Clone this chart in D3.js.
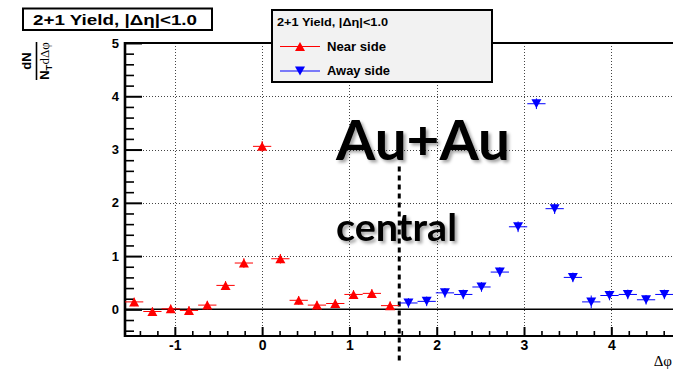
<!DOCTYPE html>
<html>
<head>
<meta charset="utf-8">
<script src="https://cdn.jsdelivr.net/npm/d3@7"></script>
<style>
  body { margin: 0; background: #fff; }
  svg { display: block; font-family: "Liberation Sans", Arial, sans-serif; }
</style>
</head>
<body>
<svg id="chart" width="673" height="371"></svg>
<script>
// Δφ bin centres (rad) and per-trigger yields
const nearPhi   = [-1.466, -1.257, -1.047, -0.838, -0.628, -0.419, -0.209, 0.000, 0.209, 0.419, 0.628, 0.838, 1.047, 1.257, 1.466];
const nearYield = [0.14, -0.04, 0.01, -0.02, 0.08, 0.45, 0.87, 3.06, 0.95, 0.17, 0.08, 0.11, 0.28, 0.30, 0.07];
const nearErr   = [0.08, 0.08, 0.08, 0.08, 0.08, 0.08, 0.09, 0.10, 0.09, 0.08, 0.08, 0.08, 0.08, 0.08, 0.08];

const awayPhi   = [1.676, 1.885, 2.094, 2.304, 2.513, 2.723, 2.932, 3.142, 3.351, 3.560, 3.770, 3.979, 4.189, 4.398, 4.608];
const awayYield = [0.12, 0.15, 0.31, 0.28, 0.42, 0.70, 1.55, 3.86, 1.89, 0.60, 0.14, 0.26, 0.28, 0.18, 0.28];
const awayErr   = [0.09, 0.09, 0.09, 0.09, 0.09, 0.09, 0.10, 0.10, 0.10, 0.09, 0.12, 0.09, 0.09, 0.09, 0.09];

const xMajorTicks = [-1, 0, 1, 2, 3, 4];
const yMajorTicks = [0, 1, 2, 3, 4, 5];
const yGridTicks  = [1, 2, 3, 4];

const titleText  = "2+1 Yield, |\u0394\u03b7|<1.0";
const legendRows = ["Near side", "Away side"];

const SANS = "'Liberation Sans', Arial, sans-serif";
const SERIF = "'Liberation Serif', 'Times New Roman', serif";
const SLIDE = "Lato, 'Open Sans', sans-serif";

const svg = d3.select("#chart");

const frame = { left: 125, top: 43, right: 673.5, bottom: 336 };
const x = d3.scaleLinear().domain([-Math.PI / 2, 3 * Math.PI / 2]).range([frame.left, frame.right]);
const y = d3.scaleLinear().domain([-0.5, 5]).range([frame.bottom, frame.top]);
const halfBin = Math.PI / 30;

// minor tick positions every 0.2
const xMinor = d3.range(-7, 24).map(i => i * 0.2).filter(v => v > -1.57 && v < 4.71 && Math.abs(v - Math.round(v)) > 1e-6);
const yMinor = d3.range(-2, 25).map(i => i * 0.2).filter(v => v >= -0.45 && v < 5 && Math.abs(v - Math.round(v)) > 1e-6);

// shadow used by the big annotation text
const defs = svg.append("defs");
const f = defs.append("filter").attr("id", "soft").attr("x", "-10%").attr("y", "-10%").attr("width", "130%").attr("height", "140%");
f.append("feDropShadow").attr("dx", 2.5).attr("dy", 2.5).attr("stdDeviation", 1.6)
  .attr("flood-color", "#000").attr("flood-opacity", 0.35);

// grid
const grid = svg.append("g").attr("stroke", "#444").attr("stroke-width", 1).attr("stroke-dasharray", "1 2");
grid.selectAll("line.v").data(xMajorTicks).join("line").attr("class", "v")
  .attr("x1", d => Math.round(x(d)) + 0.5).attr("x2", d => Math.round(x(d)) + 0.5)
  .attr("y1", frame.top).attr("y2", frame.bottom);
grid.selectAll("line.h").data(yGridTicks).join("line").attr("class", "h")
  .attr("x1", frame.left).attr("x2", frame.right)
  .attr("y1", d => Math.round(y(d)) + 0.5).attr("y2", d => Math.round(y(d)) + 0.5);

// zero line
svg.append("line").attr("x1", frame.left).attr("x2", frame.right)
  .attr("y1", y(0)).attr("y2", y(0)).attr("stroke", "#000").attr("stroke-width", 1.5);

// frame
svg.append("path")
  .attr("d", `M${frame.left},${frame.top}H${frame.right}M${frame.left},${frame.bottom}H${frame.right}`)
  .attr("stroke", "#000").attr("stroke-width", 2).attr("fill", "none");
svg.append("line").attr("x1", frame.left).attr("x2", frame.left)
  .attr("y1", frame.top - 1).attr("y2", frame.bottom + 1).attr("stroke", "#000").attr("stroke-width", 2.6);

// y axis ticks (inward) and labels
function styleTicks(g, w) {
  g.select(".domain").remove();
  g.selectAll(".tick line").attr("stroke", "#000").attr("stroke-width", w);
}
function styleLabels(g, size) {
  g.select(".domain").remove();
  g.selectAll("text").attr("fill", "#000")
    .style("font-family", SANS).style("font-size", size + "px").style("font-weight", "bold");
}
svg.append("g").attr("transform", `translate(${frame.left},0)`)
  .call(d3.axisRight(y).tickValues(yMajorTicks).tickSize(17).tickFormat(""))
  .call(g => styleTicks(g, 2));
svg.append("g").attr("transform", `translate(${frame.left},0)`)
  .call(d3.axisRight(y).tickValues(yMinor).tickSize(9).tickFormat(""))
  .call(g => styleTicks(g, 1.6));
svg.append("g").attr("transform", `translate(${frame.left},0)`)
  .call(d3.axisLeft(y).tickValues(yMajorTicks).tickSize(0).tickPadding(6).tickFormat(d => String(d)))
  .call(g => styleLabels(g, 13));

// x axis ticks (inward) and labels
svg.append("g").attr("transform", `translate(0,${frame.bottom})`)
  .call(d3.axisTop(x).tickValues(xMajorTicks).tickSize(9).tickFormat(""))
  .call(g => styleTicks(g, 2));
svg.append("g").attr("transform", `translate(0,${frame.bottom})`)
  .call(d3.axisTop(x).tickValues(xMinor).tickSize(5).tickFormat(""))
  .call(g => styleTicks(g, 1.6));
svg.append("g").attr("transform", `translate(0,${frame.bottom})`)
  .call(d3.axisBottom(x).tickValues(xMajorTicks).tickSize(0).tickPadding(4).tickFormat(d => String(d)))
  .call(g => styleLabels(g, 14));

// axis titles
svg.append("text").attr("x", 672).attr("y", 366).attr("text-anchor", "end")
  .style("font-family", SERIF).style("font-size", "15px")
  .text("\u0394\u03c6");

const yl = svg.append("g").attr("transform", "rotate(-90)");
yl.append("text").attr("x", -61).attr("y", 31).attr("text-anchor", "middle")
  .style("font-size", "13px").style("font-weight", "bold").text("dN");
yl.append("line").attr("x1", -42).attr("x2", -80).attr("y1", 36.5).attr("y2", 36.5)
  .attr("stroke", "#000").attr("stroke-width", 1.6);
const den = yl.append("text").attr("x", -61).attr("y", 49).attr("text-anchor", "middle")
  .style("font-size", "13px").style("font-weight", "bold");
den.append("tspan").text("N");
den.append("tspan").style("font-size", "9.5px").attr("dy", 3).text("T");
den.append("tspan").attr("dy", -3).style("font-family", SERIF).style("font-weight", "normal").text("d\u0394\u03c6");

// dashed marker at Δφ = π/2
svg.append("line").attr("x1", x(Math.PI / 2)).attr("x2", x(Math.PI / 2))
  .attr("y1", y(2.68)).attr("y2", y(-1.0))
  .attr("stroke", "#000").attr("stroke-width", 3).attr("stroke-dasharray", "5 4");

// data
const upTri = "M0,-4.5L5,4.5L-5,4.5Z";
const downTri = "M0,4.5L5,-4.5L-5,-4.5Z";

function drawSeries(phi, val, err, color, shape) {
  const pts = phi.map((p, i) => ({ p, v: val[i], e: err[i] }));
  const g = svg.append("g");
  g.selectAll("line.hx").data(pts).join("line").attr("class", "hx")
    .attr("x1", d => x(d.p - halfBin)).attr("x2", d => x(d.p + halfBin))
    .attr("y1", d => y(d.v)).attr("y2", d => y(d.v))
    .attr("stroke", color).attr("stroke-width", 1);
  g.selectAll("line.vy").data(pts).join("line").attr("class", "vy")
    .attr("x1", d => x(d.p)).attr("x2", d => x(d.p))
    .attr("y1", d => y(d.v - d.e)).attr("y2", d => y(d.v + d.e))
    .attr("stroke", color).attr("stroke-width", 1);
  g.selectAll("path").data(pts).join("path")
    .attr("d", shape).attr("fill", color)
    .attr("transform", d => `translate(${x(d.p)},${y(d.v)})`);
}
drawSeries(nearPhi, nearYield, nearErr, "#ff0000", upTri);
drawSeries(awayPhi, awayYield, awayErr, "#0000ff", downTri);

// annotations
svg.append("text").attr("x", 336).attr("y", 160)
  .style("font-family", SLIDE).style("font-weight", "bold").style("font-size", "56px")
  .attr("textLength", 174).attr("lengthAdjust", "spacingAndGlyphs")
  .attr("filter", "url(#soft)").text("Au+Au");
svg.append("text").attr("x", 336).attr("y", 241)
  .style("font-family", SLIDE).style("font-weight", "bold").style("font-size", "38px")
  .attr("textLength", 121).attr("lengthAdjust", "spacingAndGlyphs")
  .attr("filter", "url(#soft)").text("central");

// title box
svg.append("rect").attr("x", 23).attr("y", 8.5).attr("width", 189).attr("height", 21.5)
  .attr("fill", "#fff").attr("stroke", "#000").attr("stroke-width", 2);
svg.append("text").attr("x", 33).attr("y", 24.5)
  .style("font-size", "14px").style("font-weight", "bold")
  .attr("textLength", 164).attr("lengthAdjust", "spacingAndGlyphs")
  .text(titleText);

// legend
const lg = svg.append("g");
lg.append("rect").attr("x", 272).attr("y", 10).attr("width", 220).attr("height", 72)
  .attr("fill", "#f2f2f2").attr("stroke", "#000").attr("stroke-width", 2);
lg.append("text").attr("x", 277).attr("y", 26)
  .style("font-size", "10.5px").style("font-weight", "bold")
  .attr("textLength", 111).attr("lengthAdjust", "spacingAndGlyphs").text(titleText);
const legendItems = [
  { label: legendRows[0], color: "#ff0000", shape: upTri, yy: 46.5, len: 59 },
  { label: legendRows[1], color: "#0000ff", shape: downTri, yy: 71, len: 63 }
];
legendItems.forEach(it => {
  lg.append("line").attr("x1", 280).attr("x2", 320).attr("y1", it.yy).attr("y2", it.yy)
    .attr("stroke", it.color).attr("stroke-width", 1);
  lg.append("path").attr("d", it.shape).attr("fill", it.color)
    .attr("transform", `translate(300,${it.yy})`);
  lg.append("text").attr("x", 327).attr("y", it.yy + 4)
    .style("font-size", "12px").style("font-weight", "bold")
    .attr("textLength", it.len).attr("lengthAdjust", "spacingAndGlyphs").text(it.label);
});
</script>
</body>
</html>
